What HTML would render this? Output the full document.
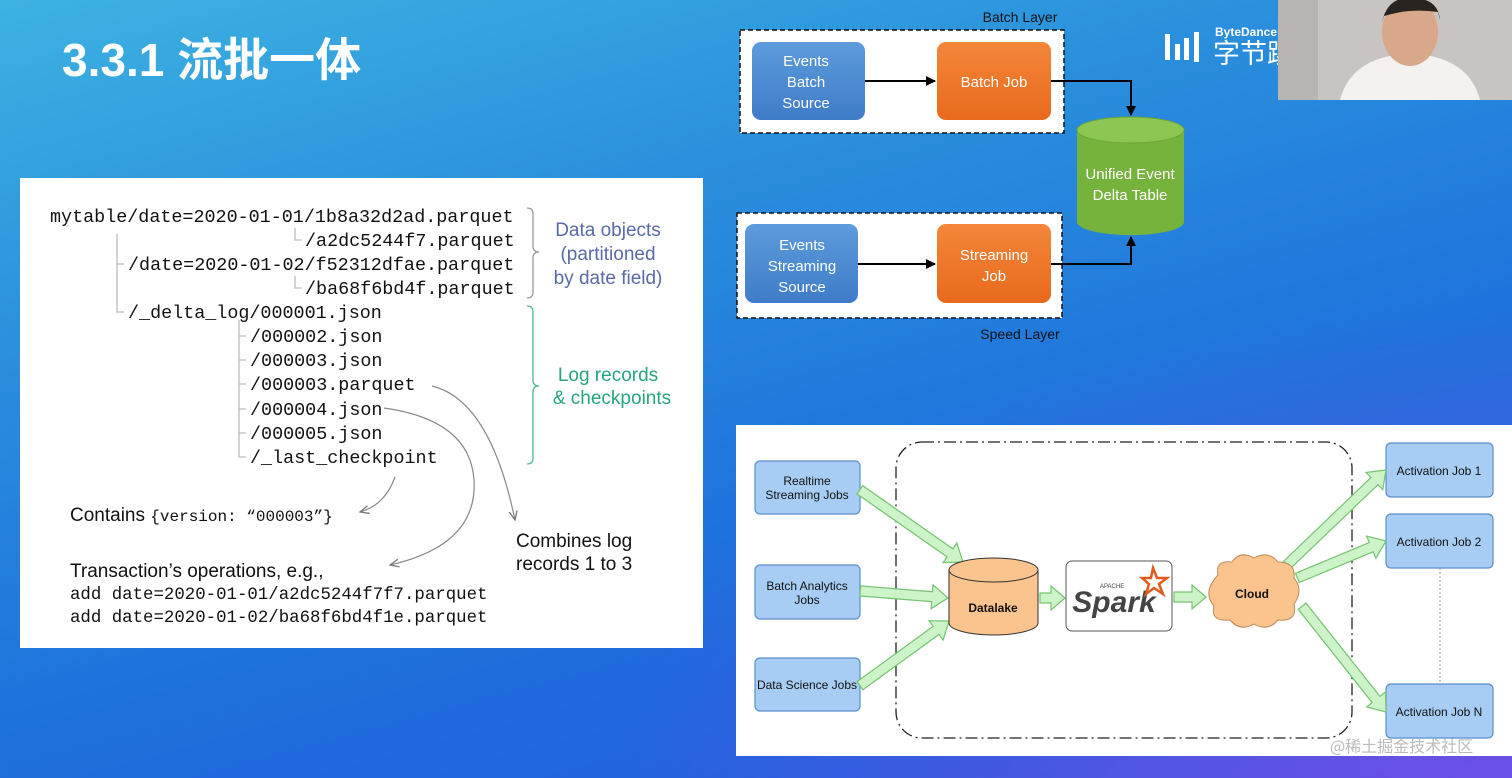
<!DOCTYPE html>
<html><head><meta charset="utf-8"><style>
html,body{margin:0;padding:0}
body{width:1512px;height:778px;overflow:hidden;position:relative;font-family:"Liberation Sans","Noto Sans CJK SC",sans-serif;
background:linear-gradient(165deg,#3cb2e2 0%,#2a8fdc 30%,#1e73dc 60%,#2160de 85%,#3a56e0 100%);}
svg{position:absolute;left:0;top:0}
</style></head><body>
<svg width="1512" height="778" viewBox="0 0 1512 778" xmlns="http://www.w3.org/2000/svg">
<defs>
<radialGradient id="pur" cx="1" cy="1" r="0.6"><stop offset="0" stop-color="#7a4ee6" stop-opacity="0.8"/><stop offset="1" stop-color="#7a4ee6" stop-opacity="0"/></radialGradient>
<linearGradient id="bl" x1="0" y1="0" x2="0" y2="1"><stop offset="0" stop-color="#5d9bdc"/><stop offset="1" stop-color="#3f7cc8"/></linearGradient>
<linearGradient id="or" x1="0" y1="0" x2="0" y2="1"><stop offset="0" stop-color="#f4863a"/><stop offset="1" stop-color="#e86a1c"/></linearGradient>
<marker id="ah" markerWidth="10" markerHeight="10" refX="9" refY="5" orient="auto" markerUnits="userSpaceOnUse"><path d="M0,0 L10,5 L0,10 z" fill="#000"/></marker>
<marker id="gh" markerWidth="10" markerHeight="10" refX="9" refY="5" orient="auto" markerUnits="userSpaceOnUse"><path d="M0,1 L9,5 L0,9" fill="none" stroke="#777" stroke-width="1.3"/></marker>
</defs>
<rect x="0" y="0" width="1512" height="778" fill="url(#pur)"/>

<text x="62" y="76" fill="#fff" font-size="46" font-weight="bold" font-family="Liberation Sans,'Noto Sans CJK SC',sans-serif">3.3.1 流批一体</text>

<g fill="#fff">
<rect x="1165" y="34" width="5" height="26"/><rect x="1175" y="44" width="5" height="16"/><rect x="1184" y="38" width="5" height="22"/><rect x="1194" y="32" width="5" height="30"/>
<text x="1215" y="36" font-size="12" font-weight="bold">ByteDance</text>
<text x="1213" y="63" font-size="27" font-family="'Noto Sans CJK SC',sans-serif">字节跳</text>
</g>

<rect x="1278" y="0" width="234" height="100" fill="#c8c4c2"/>
<rect x="1278" y="0" width="40" height="100" fill="#b8b4b2"/>
<path d="M1340,100 Q1350,62 1395,55 L1425,55 Q1470,62 1480,100 z" fill="#f4f2f0"/>
<ellipse cx="1410" cy="32" rx="28" ry="34" fill="#d9a88a"/>
<path d="M1382,22 Q1388,-4 1412,-2 Q1438,-2 1440,20 L1438,12 Q1410,8 1384,16 z" fill="#2a2420"/>

<rect x="740" y="30" width="324" height="103" fill="#fff" stroke="#111" stroke-width="1.5" stroke-dasharray="5,3"/>
<rect x="737" y="213" width="325" height="105" fill="#fff" stroke="#111" stroke-width="1.5" stroke-dasharray="5,3"/>
<text x="1020" y="22" font-size="14" fill="#111" text-anchor="middle">Batch Layer</text>
<text x="1020" y="339" font-size="14" fill="#111" text-anchor="middle">Speed Layer</text>
<rect x="752" y="42" width="113" height="78" rx="9" fill="url(#bl)"/>
<rect x="937" y="42" width="114" height="78" rx="9" fill="url(#or)"/>
<rect x="745" y="224" width="113" height="79" rx="9" fill="url(#bl)"/>
<rect x="937" y="224" width="114" height="79" rx="9" fill="url(#or)"/>
<g fill="#fff" font-size="15" text-anchor="middle">
<text x="806" y="66">Events</text><text x="806" y="87">Batch</text><text x="806" y="108">Source</text>
<text x="994" y="87">Batch Job</text>
<text x="802" y="250">Events</text><text x="802" y="271">Streaming</text><text x="802" y="292">Source</text>
<text x="994" y="260">Streaming</text><text x="994" y="281">Job</text>
</g>
<line x1="865" y1="81" x2="935" y2="81" stroke="#000" stroke-width="2" marker-end="url(#ah)"/>
<line x1="858" y1="264" x2="935" y2="264" stroke="#000" stroke-width="2" marker-end="url(#ah)"/>
<polyline points="1051,81 1131,81 1131,115" fill="none" stroke="#000" stroke-width="2" marker-end="url(#ah)"/>
<polyline points="1051,264 1131,264 1131,237" fill="none" stroke="#000" stroke-width="2" marker-end="url(#ah)"/>
<path d="M1077,130 L1077,222 A53,13 0 0 0 1184,222 L1184,130 z" fill="#76b33c"/>
<ellipse cx="1130.5" cy="130" rx="53.5" ry="13" fill="#8cc653" stroke="#6aa535"/>
<text x="1130" y="179" fill="#fff" font-size="15" text-anchor="middle">Unified Event</text>
<text x="1130" y="200" fill="#fff" font-size="15" text-anchor="middle">Delta Table</text>

<rect x="20" y="178" width="683" height="470" fill="#fff"/>
<g font-family="'Liberation Mono',monospace" font-size="18.4" fill="#111">
<text x="50" y="222">mytable/date=2020-01-01/1b8a32d2ad.parquet</text>
<text x="305" y="246">/a2dc5244f7.parquet</text>
<text x="128" y="270">/date=2020-01-02/f52312dfae.parquet</text>
<text x="305" y="294">/ba68f6bd4f.parquet</text>
<text x="128" y="318">/_delta_log/000001.json</text>
<text x="250" y="342">/000002.json</text>
<text x="250" y="366">/000003.json</text>
<text x="250" y="390">/000003.parquet</text>
<text x="250" y="415">/000004.json</text>
<text x="250" y="439">/000005.json</text>
<text x="250" y="463">/_last_checkpoint</text>
</g>
<g stroke="#bbb" fill="none" stroke-width="1.3">
<polyline points="117,234 117,312 124,312"/><line x1="117" y1="264" x2="124" y2="264"/>
<polyline points="295,228 295,240 302,240"/><polyline points="295,276 295,288 302,288"/>
<polyline points="239,320 239,457 246,457"/>
<line x1="239" y1="336" x2="246" y2="336"/><line x1="239" y1="360" x2="246" y2="360"/><line x1="239" y1="384" x2="246" y2="384"/><line x1="239" y1="409" x2="246" y2="409"/><line x1="239" y1="433" x2="246" y2="433"/>
<path d="M527,208 Q533,208 533,214 L533,246 Q533,252 539,252 Q533,252 533,258 L533,292 Q533,298 527,298" stroke="#999"/>
<path d="M527,306 Q533,306 533,312 L533,380 Q533,386 539,386 Q533,386 533,392 L533,458 Q533,464 527,464" stroke="#4fb88f"/>
</g>
<g font-size="19" text-anchor="middle" fill="#5a6aa8">
<text x="608" y="236">Data objects</text><text x="608" y="260">(partitioned</text><text x="608" y="284">by date field)</text>
</g>
<g font-size="19" text-anchor="middle" fill="#27a67a">
<text x="608" y="381">Log records</text><text x="612" y="404">&amp; checkpoints</text>
</g>
<g stroke="#888" fill="none" stroke-width="1.2" marker-end="url(#gh)">
<path d="M395,477 Q385,505 360,512"/>
<path d="M384,408 Q470,420 474,480 Q478,545 390,565"/>
<path d="M432,386 Q490,400 515,520"/>
</g>
<text x="70" y="521" font-size="19" fill="#111">Contains <tspan font-family="'Liberation Mono',monospace" font-size="16">{version: “000003”}</tspan></text>
<text x="516" y="547" font-size="19" fill="#111">Combines log</text>
<text x="516" y="570" font-size="19" fill="#111">records 1 to 3</text>
<text x="70" y="577" font-size="19" fill="#111">Transaction’s operations, e.g.,</text>
<g font-family="'Liberation Mono',monospace" font-size="17.4" fill="#111">
<text x="70" y="599">add date=2020-01-01/a2dc5244f7f7.parquet</text>
<text x="70" y="622">add date=2020-01-02/ba68f6bd4f1e.parquet</text>
</g>

<rect x="736" y="425" width="776" height="331" fill="#fff"/>
<rect x="896" y="442" width="456" height="296" rx="26" fill="none" stroke="#222" stroke-width="1.3" stroke-dasharray="12,4,2,4"/>
<line x1="1440" y1="568" x2="1440" y2="684" stroke="#999" stroke-dasharray="2,2"/>
<g fill="#a7cdf4" stroke="#5b8fc9" stroke-width="1.2">
<rect x="755" y="461" width="105" height="53" rx="5"/>
<rect x="755" y="565" width="105" height="54" rx="5"/>
<rect x="755" y="658" width="105" height="53" rx="5"/>
<rect x="1386" y="443" width="107" height="54" rx="5"/>
<rect x="1386" y="514" width="107" height="54" rx="5"/>
<rect x="1386" y="684" width="107" height="54" rx="5"/>
</g>
<g font-size="12" fill="#111" text-anchor="middle">
<text x="807" y="485">Realtime</text><text x="807" y="499">Streaming Jobs</text>
<text x="807" y="590">Batch Analytics</text><text x="807" y="604">Jobs</text>
<text x="807" y="689">Data Science Jobs</text>
<text x="1439" y="475">Activation Job 1</text>
<text x="1439" y="546">Activation Job 2</text>
<text x="1439" y="716">Activation Job N</text>
</g>
<g fill="#cdf3c8" stroke="#74c36f" stroke-width="1.2">
<g transform="translate(963,562) rotate(35)"><polygon points="0,0 -16,-12 -16,-5 -126,-5 -126,5 -16,5 -16,12"/></g>
<g transform="translate(948,598) rotate(4.6)"><polygon points="0,0 -16,-12 -16,-5 -88,-5 -88,5 -16,5 -16,12"/></g>
<g transform="translate(949,621) rotate(-36)"><polygon points="0,0 -16,-12 -16,-5 -110,-5 -110,5 -16,5 -16,12"/></g>
<g transform="translate(1065,598)"><polygon points="0,0 -14,-12 -14,-5 -25,-5 -25,5 -14,5 -14,12"/></g>
<g transform="translate(1206,597)"><polygon points="0,0 -14,-12 -14,-5 -32,-5 -32,5 -14,5 -14,12"/></g>
<g transform="translate(1386,470) rotate(-43.8)"><polygon points="0,0 -16,-12 -16,-5 -137,-5 -137,5 -16,5 -16,12"/></g>
<g transform="translate(1386,541) rotate(-22.6)"><polygon points="0,0 -16,-12 -16,-5 -96,-5 -96,5 -16,5 -16,12"/></g>
<g transform="translate(1386,712) rotate(51.6)"><polygon points="0,0 -16,-12 -16,-5 -135,-5 -135,5 -16,5 -16,12"/></g>
</g>
<path d="M949,570 L949,623 A44.5,12 0 0 0 1038,623 L1038,570 z" fill="#fbc48e" stroke="#333" stroke-width="1"/>
<ellipse cx="993.5" cy="570" rx="44.5" ry="12" fill="#fbc48e" stroke="#333" stroke-width="1"/>
<text x="993" y="612" font-size="12" font-weight="bold" text-anchor="middle" fill="#111">Datalake</text>
<rect x="1066" y="561" width="106" height="70" rx="6" fill="#fff" stroke="#555"/>
<text x="1114" y="612" font-size="30" font-style="italic" font-weight="bold" fill="#444" text-anchor="middle">Spark</text>
<text x="1100" y="588" font-size="6" fill="#444">APACHE</text>
<path d="M1153,568 L1157,578 L1167,578 L1159,584 L1163,594 L1154,588 L1146,594 L1149,584 L1142,578 L1151,578 z" fill="none" stroke="#e25a1c" stroke-width="2.5"/>
<path d="M1218,575 Q1215,560 1232,562 Q1240,550 1254,558 Q1268,550 1278,562 Q1296,562 1294,578 Q1304,590 1294,604 Q1298,622 1278,620 Q1268,632 1254,624 Q1240,632 1230,620 Q1210,622 1214,606 Q1202,592 1218,575 z" fill="#fbc48e" stroke="#c08b5a"/>
<text x="1252" y="598" font-size="12" font-weight="bold" text-anchor="middle" fill="#111">Cloud</text>
<text x="1330" y="752" font-size="16" fill="#bbb" font-family="'Noto Sans CJK SC',sans-serif">@稀土掘金技术社区</text>
</svg>
</body></html>
